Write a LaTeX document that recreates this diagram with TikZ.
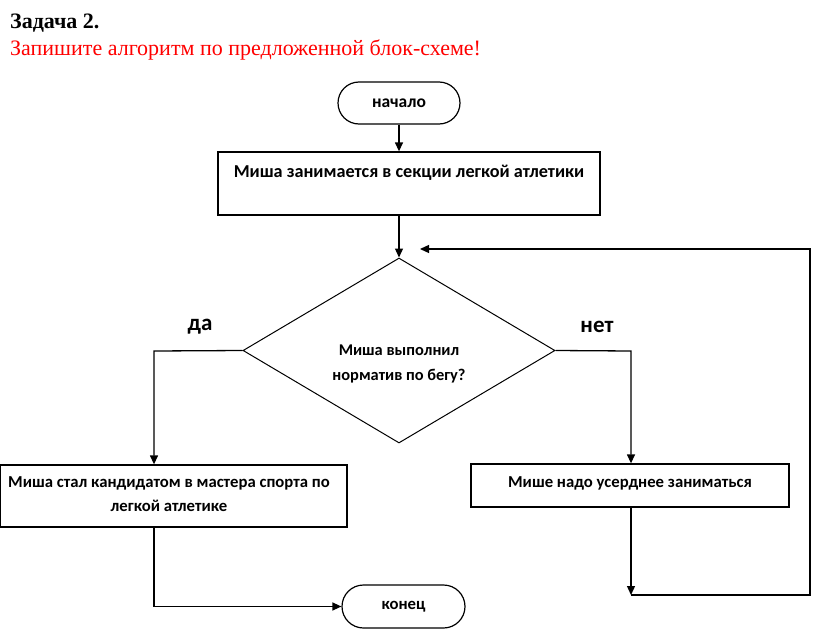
\documentclass[tikz,border=0pt]{standalone}
\usepackage{fontspec}
\setmainfont{Liberation Serif}
\newfontfamily\calfont{Carlito}
\usetikzlibrary{shapes.geometric,shapes.misc,arrows.meta}
\tikzset{
  flow/.style={line width=1.3pt, draw=black},
  arr/.style={flow, -{Triangle[length=9pt,width=8pt]}},
  box/.style={draw=black, line width=1.3pt, rectangle, inner sep=0pt},
  term/.style={draw=black, line width=1.2pt, rounded rectangle, inner sep=0pt},
  btxt/.style={font=\calfont\bfseries\fontsize{16.7}{24}\selectfont, inner sep=0pt, align=center},
}
\begin{document}
\begin{tikzpicture}[x=1pt,y=-1pt]
\useasboundingbox (0,0) rectangle (836,637);
\node[anchor=base west, inner sep=0pt, font=\bfseries\fontsize{22}{24}\selectfont] (title) at (10,28) {Задача 2.};
\node[anchor=base west, inner sep=0pt, text=red, font=\fontsize{22}{24}\selectfont] (task) at (10,55) {Запишите алгоритм по предложенной блок-схеме!};

\node[term, minimum width=122pt, minimum height=42pt] (start) at (399,103) {};
\node[btxt, font=\calfont\bfseries\fontsize{17.5}{24}\selectfont] (starttxt) at (start.center) {начало};

\node[box, minimum width=382pt, minimum height=63pt] (b1) at (409,183.5) {};
\node[btxt, anchor=base, font=\calfont\bfseries\fontsize{18.2}{24}\selectfont] (b1txt) at (409,177) {Миша занимается в секции легкой атлетики};

\node[diamond, draw=black, line width=1pt, minimum width=312pt, minimum height=185pt, aspect=1.686, inner sep=0pt] (d) at (399,350.5) {};
\node[btxt, font=\calfont\bfseries\fontsize{16.4}{25}\selectfont] (dtxt) at (399,364) {Миша выполнил\\норматив по бегу?};

\node[btxt, font=\calfont\bfseries\fontsize{23}{24}\selectfont] (yes) at (200,327) {да};
\node[btxt, font=\calfont\bfseries\fontsize{23}{24}\selectfont] (no) at (597,327) {нет};

\node[box, minimum width=347pt, minimum height=62pt] (b2) at (173.5,496) {};
\node[btxt] (b2txt) at (169,494) {Миша стал кандидатом в мастера спорта по\\легкой атлетике};

\node[box, minimum width=318pt, minimum height=43pt] (b3) at (630,485.5) {};
\node[btxt] (b3txt) at (630,483) {Мише надо усерднее заниматься};

\node[term, minimum width=123pt, minimum height=43pt] (end) at (403.5,606.5) {};
\node[btxt] (endtxt) at (end.center) {конец};

\coordinate (c1) at (631,595);
\coordinate (c3) at (420,249);
\coordinate (yb) at (154,351);
\coordinate (nb) at (631,351);

\draw[arr] (start.south) -- (start.south |- b1.north);
\draw[arr] (start.south |- b1.south) -- (d.north);
\draw[arr] (d.west) -- (yb) -- (yb |- b2.north);
\draw[arr] (d.east) -- (nb) -- (nb |- b3.north);
\draw[arr] (yb |- b2.south) |- (end.west);
\draw[arr] (nb |- b3.south) -- (c1);
\draw[arr] (c1) -- (810,595) |- (c3);
\end{tikzpicture}
\end{document}
